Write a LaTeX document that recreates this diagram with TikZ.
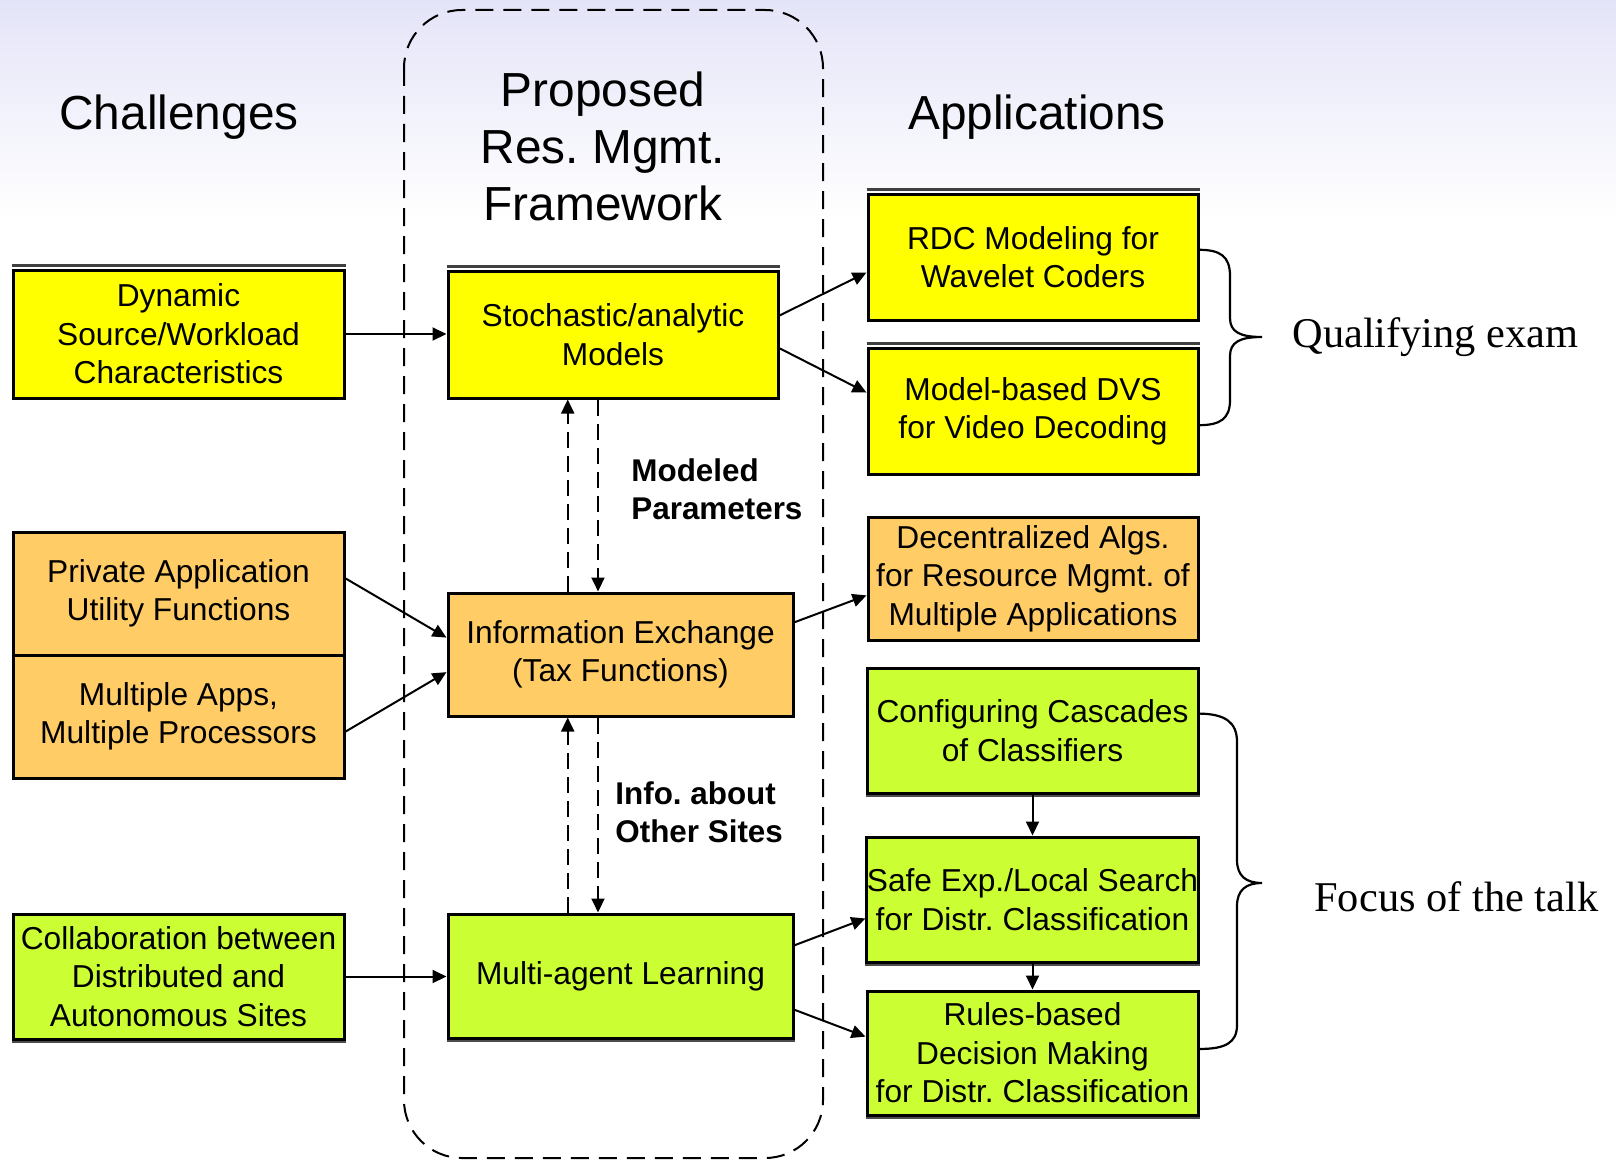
\documentclass[tikz,border=0pt]{standalone}
\usepackage{fontspec}
\setmainfont{Liberation Sans}
\newfontfamily\serifface{Liberation Serif}
\usetikzlibrary{arrows.meta,calc}

\definecolor{boxyellow}{RGB}{255,255,0}
\definecolor{boxorange}{RGB}{255,204,102}
\definecolor{boxgreen}{RGB}{204,255,51}
\definecolor{skytop}{RGB}{228,228,248}

\tikzset{
  box/.style={draw=black, line width=1.5pt, align=center, inner sep=0pt,
    font=\fontsize{15.85}{19.2}\selectfont},
  ybox/.style={box, fill=boxyellow},
  obox/.style={box, fill=boxorange},
  gbox/.style={box, fill=boxgreen},
  topline/.style={draw=black!75, line width=1.3pt},
  botline/.style={draw=black!70, line width=1pt},
  title/.style={align=center, inner sep=0pt, font=\fontsize{23.9}{28.5}\selectfont},
  note/.style={align=left, inner sep=0pt, font=\bfseries\fontsize{15.7}{19}\selectfont},
  side/.style={inner sep=0pt, font=\serifface\fontsize{21.2}{25}\selectfont},
  tip/.style={-{Triangle[length=7pt,width=6.5pt]}},
  conn/.style={tip, line width=1pt},
  dconn/.style={tip, line width=1pt, dash pattern=on 8pt off 4pt},
  frame/.style={line width=1pt, dash pattern=on 9pt off 5pt, rounded corners=29pt},
  bracepath/.style={line width=1.1pt}
}

\begin{document}
\frenchspacing
\begin{tikzpicture}[x=0.5pt, y=-0.5pt]
  \useasboundingbox (0,0) rectangle (1616,1161);
  % faint lavender sky at the top of the slide
  \shade[top color=skytop, bottom color=white] (0,0) rectangle (1616,220);
  \fill[white] (0,220) rectangle (1616,1161);

  % dashed frame around the framework column
  \draw[frame] (404,10) rectangle (823,1158);

  % column titles
  \node[title] (tchal) at (179,117) {Challenges};
  \node[title] (tprop) at (603,146) {Proposed\\Res. Mgmt.\\Framework};
  \node[title] (tapp)  at (1037,117) {Applications};

  % challenges
  \node[ybox, minimum width=165.5pt, minimum height=64pt] (dyn) at (178.5,334)
    {Dynamic\\Source/Workload\\Characteristics};
  \node[obox, minimum width=165.5pt, minimum height=61.5pt] (priv) at (178.5,593.5)
    {Private Application\\Utility Functions};
  \node[obox, minimum width=165.5pt, minimum height=61.5pt] (mult) at (178.5,716.5)
    {Multiple Apps,\\Multiple Processors};
  \node[gbox, minimum width=165.5pt, minimum height=62.5pt] (collab) at (178.5,976.5)
    {Collaboration between\\Distributed and\\Autonomous Sites};

  % framework
  \node[ybox, minimum width=165pt, minimum height=63.5pt] (sto) at (613,334.5)
    {Stochastic/analytic\\Models};
  \node[obox, minimum width=172.5pt, minimum height=61.5pt] (info) at (620.5,654.5)
    {Information Exchange\\(Tax Functions)};
  \node[gbox, minimum width=172.5pt, minimum height=62pt] (multi) at (620.5,976)
    {Multi-agent Learning};

  % applications
  \node[ybox, minimum width=165pt, minimum height=63pt] (rdc) at (1033,257)
    {RDC Modeling for\\Wavelet Coders};
  \node[ybox, minimum width=165pt, minimum height=63pt] (dvs) at (1033,411)
    {Model-based DVS\\for Video Decoding};
  \node[obox, minimum width=165pt, minimum height=61.5pt] (dec) at (1033,578.5)
    {Decentralized Algs.\\for Resource Mgmt. of\\Multiple Applications};
  \node[gbox, minimum width=165.5pt, minimum height=62.5pt] (conf) at (1032.5,730.5)
    {Configuring Cascades\\of Classifiers};
  \node[gbox, minimum width=165.5pt, minimum height=62.5pt] (safe) at (1032.5,899.5)
    {Safe Exp./Local Search\\for Distr. Classification};
  \node[gbox, minimum width=165.5pt, minimum height=62pt] (rules) at (1032.5,1053)
    {Rules-based\\Decision Making\\for Distr. Classification};

  % raised top edge of the yellow boxes
  \foreach \b in {dyn,sto,rdc,dvs}
    \draw[topline] ([yshift=1.4pt]\b.north west) -- ([yshift=1.4pt]\b.north east);
  % heavier lower edge of the green boxes
  \foreach \b in {collab,multi,conf,safe,rules}
    \draw[botline] ([yshift=-0.9pt]\b.south west) -- ([yshift=-0.9pt]\b.south east);

  % labels on the dashed links
  \node[note, anchor=west] (lmod) at (631,489) {Modeled\\Parameters};
  \node[note, anchor=west] (linf) at (615,812) {Info. about\\Other Sites};

  % solid links
  \draw[conn] (dyn.east) -- (dyn.east -| sto.west);
  \draw[conn] (collab.east) -- (collab.east -| multi.west);
  \draw[conn] ($(sto.north east)!0.354!(sto.south east)$) -- ($(rdc.north west)!0.62!(rdc.south west)$);
  \draw[conn] ($(sto.north east)!0.606!(sto.south east)$) -- ($(dvs.north west)!0.357!(dvs.south west)$);
  \draw[conn] ($(priv.north east)!0.38!(priv.south east)$) -- ($(info.north west)!0.366!(info.south west)$);
  \draw[conn] ($(mult.north east)!0.62!(mult.south east)$) -- ($(info.north west)!0.64!(info.south west)$);
  \draw[conn] ($(info.north east)!0.244!(info.south east)$) -- ($(dec.north west)!0.634!(dec.south west)$);
  \draw[conn] ($(multi.north east)!0.258!(multi.south east)$) -- ($(safe.north west)!0.648!(safe.south west)$);
  \draw[conn] ($(multi.north east)!0.766!(multi.south east)$) -- ($(rules.north west)!0.371!(rules.south west)$);
  \draw[conn] (conf.south) -- (safe.north);
  \draw[conn] (safe.south) -- (rules.north);

  % dashed links up and down the framework column
  \coordinate (ua) at ($(sto.south west)!0.364!(sto.south east)$);
  \coordinate (da) at ($(sto.south west)!0.455!(sto.south east)$);
  \draw[dconn] (ua |- info.north) -- (ua);
  \draw[dconn] (da) -- (da |- info.north);
  \draw[dconn] (ua |- multi.north) -- (ua |- info.south);
  \draw[dconn] (da |- info.south) -- (da |- multi.north);

  % braces grouping the applications
  \coordinate (q1) at ($(rdc.north east)!0.444!(rdc.south east)$);
  \coordinate (q2) at ($(dvs.north east)!0.61!(dvs.south east)$);
  \coordinate (qt) at (1262,337);
  \draw[bracepath] (q1) .. controls (1220,250) and (1230,256) .. (1230,276) -- (1230,318)
    .. controls (1230,332) and (1240,337) .. (qt)
    .. controls (1240,337) and (1230,342) .. (1230,356) -- (1230,400)
    .. controls (1230,419) and (1220,425) .. (q2);
  \node[side, anchor=west] (qual) at (1292,337) {Qualifying exam};

  \coordinate (f1) at ($(conf.north east)!0.368!(conf.south east)$);
  \coordinate (f2) at ($(rules.north east)!0.468!(rules.south east)$);
  \coordinate (ft) at (1262,883);
  \draw[bracepath] (f1) .. controls (1225,714) and (1237,722) .. (1237,742) -- (1237,860)
    .. controls (1237,876) and (1246,883) .. (ft)
    .. controls (1246,883) and (1237,890) .. (1237,906) -- (1237,1025)
    .. controls (1237,1043) and (1225,1049) .. (f2);
  \node[side, anchor=west] (focus) at (1314,897) {Focus of the talk};
\end{tikzpicture}
\end{document}
